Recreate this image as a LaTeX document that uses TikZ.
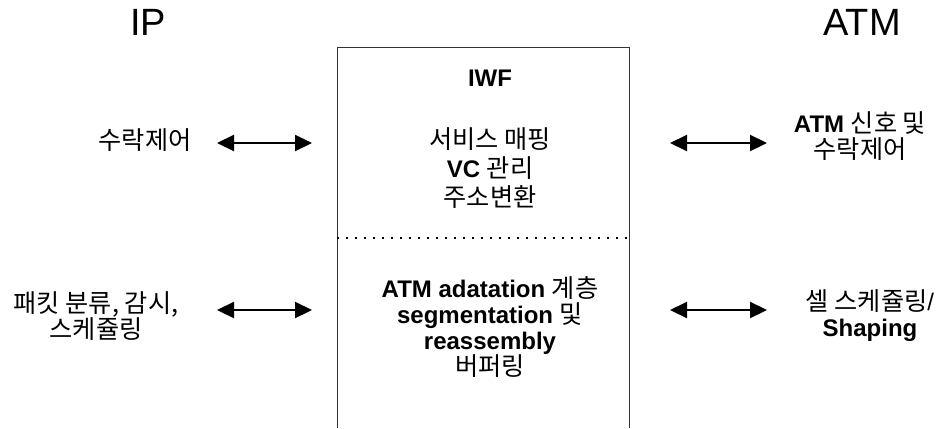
\documentclass[tikz,border=0pt]{standalone}
\usepackage{fontspec}
\setmainfont{Liberation Sans}
\newfontfamily\kr[Scale=1.05]{Noto Sans CJK KR}
\usetikzlibrary{positioning, arrows.meta}

\begin{document}
\begin{tikzpicture}[x=0.5pt, y=-0.5pt,
every node/.style={font=\fontsize{12}{13}\selectfont, align=center, inner sep=0pt},
hdr/.style={font=\fontsize{19}{19}\selectfont},
dbl/.style={{Triangle[length=8.5pt, width=8pt]}-{Triangle[length=8.5pt, width=8pt]}, line width=1.1pt}]
\useasboundingbox (0,0) rectangle (946,428);
% headers
\node (ip) [hdr] at (148,22) {IP};
\node (atm) [hdr] at (862,22) {ATM};
% IWF box, open at the bottom
\draw[line width=0.5pt, black!80] (337,428) -- (337,47) -- (629,47) -- (629,428);
\draw[line width=1pt, dash pattern=on 1pt off 3.5pt] (337,238) -- (629,238);
\node (iwf) at (490,78) {\bfseries IWF};
\node (svc) at (490,168) {{\kr 서비스 매핑}\\[1.5pt] {\bfseries VC} {\kr 관리}\\[1.5pt] {\kr 주소변환}};
\node (aal) at (490,327) {{\bfseries ATM adatation} {\kr 계층}\\ {\bfseries segmentation} {\kr 및}\\ {\bfseries reassembly}\\ {\kr 버퍼링}};
% IP side
\node (ipctl) at (145,140) {\kr 수락제어};
\node (ipsched) at (96,316) {\kr 패킷 분류, 감시,\\ \kr 스케쥴링};
% ATM side
\node (atmsig) at (860,136) {{\bfseries ATM} {\kr 신호 및}\\ {\kr 수락제어}};
\node (atmshape) at (870,316) {{\kr 셀 스케쥴링}/\\ {\bfseries Shaping}};
% arrow ends
\coordinate (ipa) at (217,143);
\coordinate (ipb) at (312,143);
\coordinate (atma) at (670,143);
\coordinate (atmb) at (767,143);
\coordinate (ipc) at (217,310);
\coordinate (ipd) at (312,310);
\coordinate (atmc) at (670,310);
\coordinate (atmd) at (767,310);
\draw[dbl] (ipa) -- (ipb);
\draw[dbl] (atma) -- (atmb);
\draw[dbl] (ipc) -- (ipd);
\draw[dbl] (atmc) -- (atmd);
\end{tikzpicture}
\end{document}
